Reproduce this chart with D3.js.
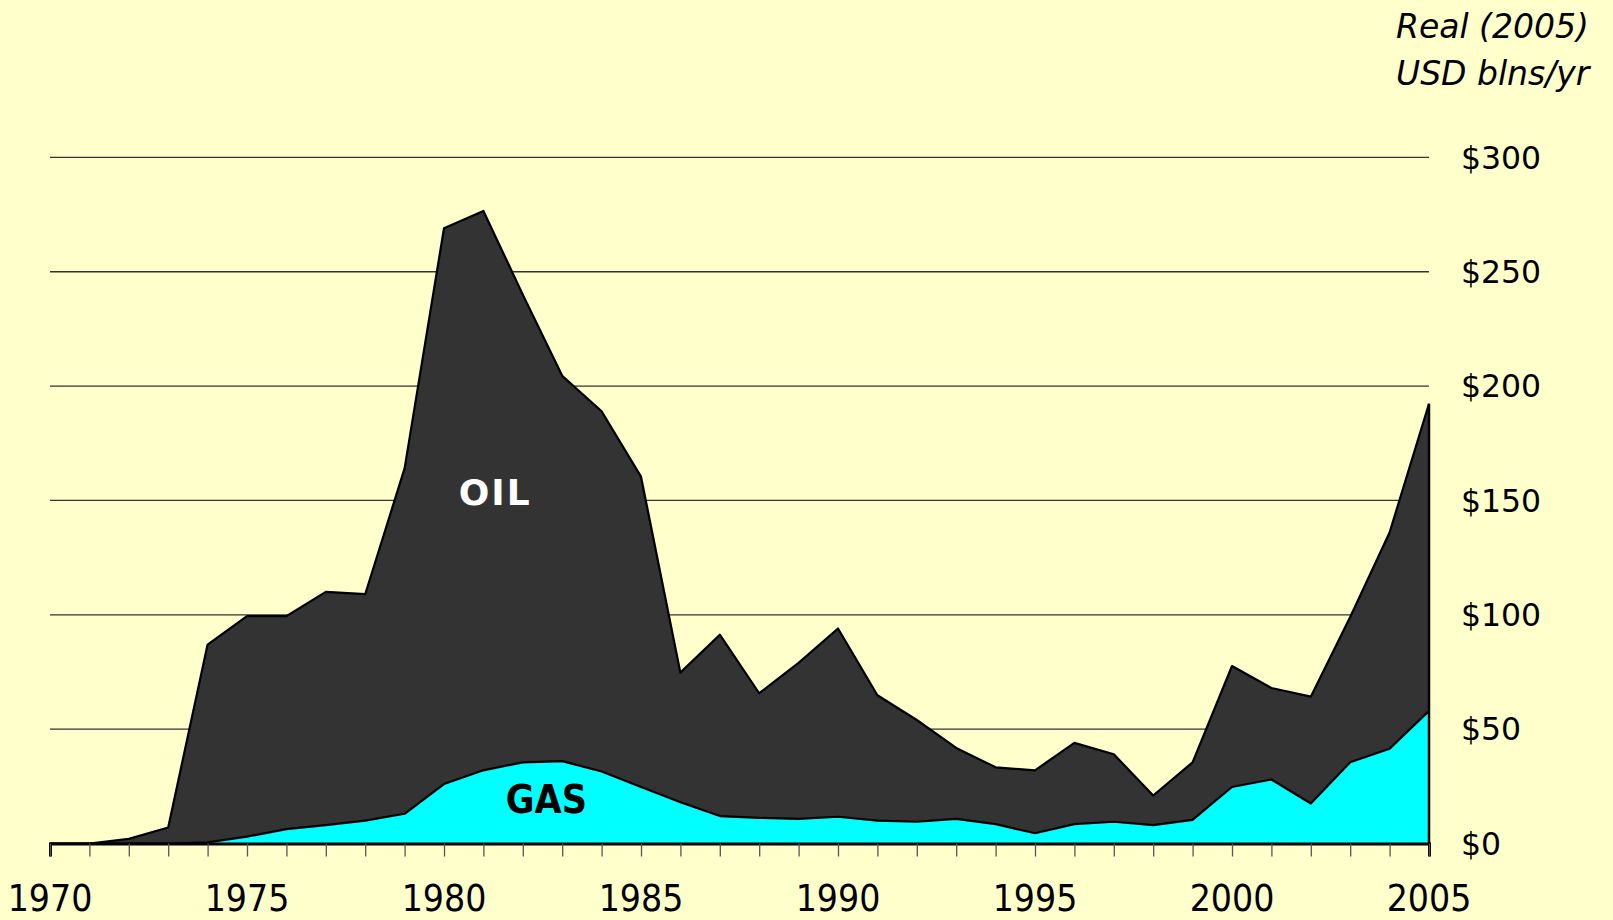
<!DOCTYPE html>
<html>
<head>
<meta charset="utf-8" />
<title>Oil and gas revenues</title>
<script src="https://cdn.jsdelivr.net/npm/d3@7"></script>
<style>
    html, body { margin: 0; padding: 0; background: #ffffcc; }
    svg { display: block; }
</style>
</head>
<body>
<script>
    // data (real 2005 USD blns/yr)
    var years = d3.range(1970, 2006);
    var gas = [0, 0, 0, 0, 0.5, 3, 6.3, 8, 10, 13,
               26, 32, 35.5, 36, 31.5, 24.7, 18, 12, 11.2, 10.8,
               11.7, 10, 9.5, 10.8, 8.5, 4.5, 8.5, 9.5, 8, 10.3,
               24.7, 28, 17.5, 35.5, 41.4, 58];
    var oil = [0, 0, 2, 7, 86.5, 96.4, 93.1, 102, 99, 151,
               243, 244.6, 204.5, 168.5, 157.5, 135.7, 56.7, 79.3, 54.5, 68.2,
               82.3, 54.8, 44.5, 31, 24.8, 27.5, 35.5, 29.5, 13, 25.2,
               52.9, 40, 46.7, 63.5, 94.6, 134.3];
    var yTicks = [0, 50, 100, 150, 200, 250, 300];
    var xTickLabels = [1970, 1975, 1980, 1985, 1990, 1995, 2000, 2005];
    var unitLines = ["Real (2005)", "USD blns/yr"];

    var width = 1613, height = 920;
    var svg = d3.select('body').append('svg').attr('width', width).attr('height', height);

    var x = d3.scaleLinear().domain([1970, 2005]).range([50, 1429]);
    var y = d3.scaleLinear().domain([0, 300]).range([843.5, 157.4]);

    var table = years.map(function (yr, i) { return { year: yr, gas: gas[i], oil: oil[i] }; });
    var series = d3.stack().keys(['gas', 'oil'])(table);
    var fills = { gas: '#00ffff', oil: '#333333' };

    // gridlines
    svg.append('g').selectAll('line').data(yTicks.slice(1)).enter().append('line')
        .attr('x1', x(1970)).attr('x2', x(2005))
        .attr('y1', function (d) { return y(d); }).attr('y2', function (d) { return y(d); })
        .attr('stroke', '#333').attr('stroke-width', 1.3);

    var area = d3.area()
        .x(function (d) { return x(d.data.year); })
        .y0(function (d) { return y(d[0]); })
        .y1(function (d) { return y(d[1]); });
    var topLine = d3.line()
        .x(function (d) { return x(d.data.year); })
        .y(function (d) { return y(d[1]); });

    svg.append('g').selectAll('path').data(series).enter().append('path')
        .attr('d', area).attr('fill', function (d) { return fills[d.key]; });

    svg.append('g').selectAll('path').data(series).enter().append('path')
        .attr('d', topLine).attr('fill', 'none')
        .attr('stroke', '#000').attr('stroke-width', 2.2).attr('stroke-linejoin', 'round');

    // right closing edge
    var last = series[1][series[1].length - 1];
    svg.append('line')
        .attr('x1', x(2005)).attr('x2', x(2005))
        .attr('y1', y(last[1])).attr('y2', y(0))
        .attr('stroke', '#000').attr('stroke-width', 2.5);

    // x axis
    var xAxis = d3.axisBottom(x).tickValues(years).tickSize(13).tickFormat('');
    var gx = svg.append('g').attr('transform', 'translate(0,' + y(0) + ')').call(xAxis);
    gx.select('.domain').attr('stroke', '#000').attr('stroke-width', 3);
    gx.selectAll('.tick line').attr('stroke', '#555').attr('stroke-width', 1.3);

    svg.append('g').selectAll('text').data(xTickLabels).enter().append('text')
        .attr('x', function (d) { return x(d); }).attr('y', 911)
        .attr('text-anchor', 'middle')
        .style('font-family', '"Liberation Sans Narrow", "DejaVu Sans Condensed", sans-serif')
        .style('font-stretch', 'condensed')
        .style('font-size', '37px').attr('fill', '#000')
        .text(function (d) { return d; });

    // y labels on the right
    svg.append('g').selectAll('text').data(yTicks).enter().append('text')
        .attr('x', 1461).attr('y', function (d) { return y(d); })
        .attr('dy', '0.36em')
        .style('font-family', '"DejaVu Sans", Verdana, sans-serif')
        .style('font-size', '31.5px').attr('fill', '#000')
        .text(function (d) { return '$' + d; });

    // unit note
    svg.append('g').selectAll('text').data(unitLines).enter().append('text')
        .attr('x', 1396).attr('y', function (d, i) { return 38 + i * 47; })
        .style('font-family', '"DejaVu Sans", Verdana, sans-serif')
        .style('font-style', 'italic')
        .style('font-size', '33px').attr('fill', '#000')
        .text(function (d) { return d; });

    // series labels
    svg.append('text')
        .attr('x', x(1981.3)).attr('y', y(148))
        .attr('text-anchor', 'middle')
        .style('font-family', '"DejaVu Sans", Verdana, sans-serif')
        .style('font-weight', 'bold').style('font-size', '36px')
        .style('letter-spacing', '2px')
        .attr('fill', '#fff').text('OIL');

    svg.append('text')
        .attr('x', x(1982.6)).attr('y', y(13.4))
        .attr('text-anchor', 'middle')
        .style('font-family', '"Liberation Sans Narrow", "DejaVu Sans Condensed", sans-serif')
        .style('font-stretch', 'condensed')
        .style('font-weight', 'bold').style('font-size', '39px')
        .attr('fill', '#000').text('GAS');
</script>
</body>
</html>
